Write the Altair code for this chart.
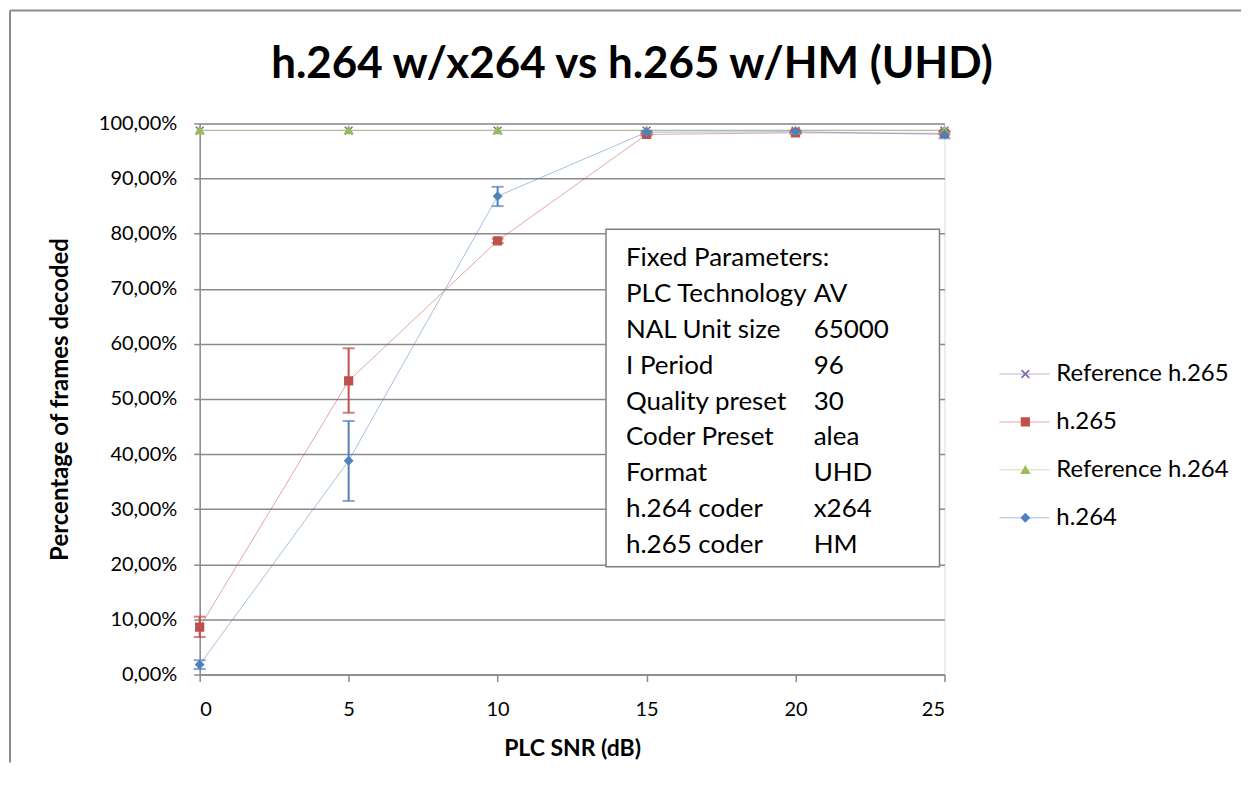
import altair as alt
import pandas as pd

FONT = "Lato"

snr = [0, 5, 10, 15, 20, 25]
series_names = ["Reference h.265", "h.265", "Reference h.264", "h.264"]
series_colors = ["#8064A2", "#C0504D", "#9BBB59", "#4F81BD"]

ref_h265 = [98.7, 98.7, 98.7, 98.7, 98.7, 98.7]
h265 = [8.6, 53.3, 78.7, 98.0, 98.3, 98.2]
h265_lo = [6.8, 47.5, 78.3, 97.8, 98.1, 98.0]
h265_hi = [10.5, 59.2, 79.1, 98.2, 98.5, 98.4]
ref_h264 = [98.8, 98.8, 98.8, 98.8, 98.8, 98.8]
h264 = [1.8, 38.8, 86.8, 98.4, 98.5, 98.0]
h264_lo = [1.0, 31.5, 85.0, 98.2, 98.3, 97.3]
h264_hi = [2.6, 46.0, 88.5, 98.6, 98.7, 98.6]

y_ticks = [0, 10, 20, 30, 40, 50, 60, 70, 80, 90, 100]

param_names = ["Fixed Parameters:", "PLC Technology", "NAL Unit size", "I Period",
               "Quality preset", "Coder Preset", "Format", "h.264 coder", "h.265 coder"]
param_values = ["", "AV", "65000", "96", "30", "alea", "UHD", "x264", "HM"]

title_text = "h.264 w/x264 vs h.265 w/HM (UHD)"
x_title = "PLC SNR (dB)"
y_title = "Percentage of frames decoded"

# ---- build table ----
rows = []
for name, vals, lo, hi in [
    ("Reference h.265", ref_h265, None, None),
    ("h.265", h265, h265_lo, h265_hi),
    ("Reference h.264", ref_h264, None, None),
    ("h.264", h264, h264_lo, h264_hi),
]:
    for i, s in enumerate(snr):
        rows.append({
            "series": name, "snr": s, "value": vals[i],
            "lo": lo[i] if lo else None, "hi": hi[i] if hi else None,
        })
df = pd.DataFrame(rows)

X_PATH = "M-1,-1L1,1M-1,1L1,-1"
color_scale = alt.Scale(domain=series_names, range=series_colors)
shape_scale = alt.Scale(domain=series_names, range=[X_PATH, "square", "triangle-up", "diamond"])

GRID = "#8a8a8a"

x_axis = alt.Axis(values=snr, grid=False, labelFontSize=20, labelColor="black", labelAngle=0,
                  tickSize=7, tickColor=GRID, tickWidth=1.5, domainColor=GRID, domainWidth=1.5,
                  labelPadding=18, titleFontSize=23, titleFontWeight="bold", titleColor="black",
                  titleY=74, titleBaseline="middle")
y_axis = alt.Axis(values=y_ticks, labelExpr="replace(format(datum.value/100, '.2%'), '.', ',')",
                  labelFontSize=20, labelColor="black", labelPadding=17,
                  tickSize=6, tickColor=GRID, tickWidth=1.5, domainColor=GRID, domainWidth=1.5,
                  grid=True, gridColor=GRID, gridWidth=1.5,
                  titleFontSize=24, titleFontWeight="bold", titleColor="black",
                  titleX=-139, titleY=276, titleAngle=-90, titleAlign="center", titleBaseline="middle")

xs = alt.Scale(domain=[0, 25], nice=False)
ys = alt.Scale(domain=[0, 100], nice=False)


def X(field="snr"):
    return alt.X(f"{field}:Q", scale=xs, axis=x_axis, title=x_title)


def Y(field):
    return alt.Y(f"{field}:Q", scale=ys, axis=y_axis, title=y_title)


base = alt.Chart(df)
one = pd.DataFrame({"k": [0]})

frame_top = alt.Chart(one).mark_rule(stroke="#8c8c8c", strokeWidth=2).encode(
    x=alt.value(-190), x2=alt.value(1043), y=alt.value(-113))
frame_left = alt.Chart(one).mark_rule(stroke="#8c8c8c", strokeWidth=2).encode(
    x=alt.value(-190), y=alt.value(-113), y2=alt.value(640))

title = alt.Chart(pd.DataFrame({"t": [title_text]})).mark_text(
    fontSize=44, fontWeight="bold", font=FONT, align="center", baseline="middle", color="black"
).encode(x=alt.value(433), y=alt.value(-58), text="t:N")

lines = base.mark_line(strokeWidth=1, opacity=0.5).encode(
    x=X(), y=Y("value"), color=alt.Color("series:N", scale=color_scale, legend=None))

err = base.transform_filter("isValid(datum.lo)")
err_rule = err.mark_rule(strokeWidth=2).encode(
    x=X(), y=Y("lo"), y2="hi:Q", color=alt.Color("series:N", scale=color_scale, legend=None))
cap_lo = err.mark_tick(orient="horizontal", size=12, thickness=2).encode(
    x=X(), y=Y("lo"), color=alt.Color("series:N", scale=color_scale, legend=None))
cap_hi = err.mark_tick(orient="horizontal", size=12, thickness=2).encode(
    x=X(), y=Y("hi"), color=alt.Color("series:N", scale=color_scale, legend=None))

points = base.mark_point(filled=True, size=60, strokeWidth=1.5, opacity=1).encode(
    x=X(), y=Y("value"),
    shape=alt.Shape("series:N", scale=shape_scale, legend=None),
    fill=alt.Fill("series:N", scale=color_scale, legend=None),
    stroke=alt.Stroke("series:N", scale=color_scale, legend=None))

box = alt.Chart(one).mark_rect(fill="white", stroke="#808080", strokeWidth=1.5).encode(
    x=alt.value(407), x2=alt.value(741), y=alt.value(106), y2=alt.value(444))
box_left = alt.Chart(pd.DataFrame({"t": ["\n".join(param_names)]})).mark_text(
    align="left", baseline="middle", lineBreak="\n", lineHeight=35.9, fontSize=26, font=FONT, color="black"
).encode(x=alt.value(427), y=alt.value(135), text="t:N")
box_right = alt.Chart(pd.DataFrame({"t": ["\n".join(param_values)]})).mark_text(
    align="left", baseline="middle", lineBreak="\n", lineHeight=35.9, fontSize=26, font=FONT, color="black"
).encode(x=alt.value(615), y=alt.value(135), text="t:N")

main = alt.layer(frame_top, frame_left, title, lines, err_rule, cap_lo, cap_hi, points,
                 box, box_left, box_right).properties(width=746, height=552)

# ---- legend ----
leg = alt.Chart(pd.DataFrame({"series": series_names}))
ly = alt.Y("series:N", sort=series_names,
           scale=alt.Scale(type="point", domain=series_names, range=[251, 395], padding=0), axis=None)
leg_rule = leg.mark_rule(strokeWidth=1.5, opacity=0.35).encode(
    x=alt.value(0), x2=alt.value(50), y=ly, color=alt.Color("series:N", scale=color_scale, legend=None))
leg_pt = leg.mark_point(filled=True, size=60, strokeWidth=1.5, opacity=1).encode(
    x=alt.value(26), y=ly,
    shape=alt.Shape("series:N", scale=shape_scale, legend=None),
    fill=alt.Fill("series:N", scale=color_scale, legend=None),
    stroke=alt.Stroke("series:N", scale=color_scale, legend=None))
leg_txt = leg.mark_text(align="left", baseline="middle", fontSize=24, font=FONT, color="black").encode(
    x=alt.value(57), y=ly, text="series:N")
legend = alt.layer(leg_rule, leg_pt, leg_txt).properties(
    width=200, height=552, view=alt.ViewConfig(stroke="transparent", strokeWidth=0))

chart = alt.hconcat(main, legend, spacing=55, bounds="flush").properties(
    padding=0
).configure_view(stroke="transparent", strokeWidth=0).configure(font=FONT)

chart.save("out.html", embed_options={"renderer": "svg", "actions": False})
